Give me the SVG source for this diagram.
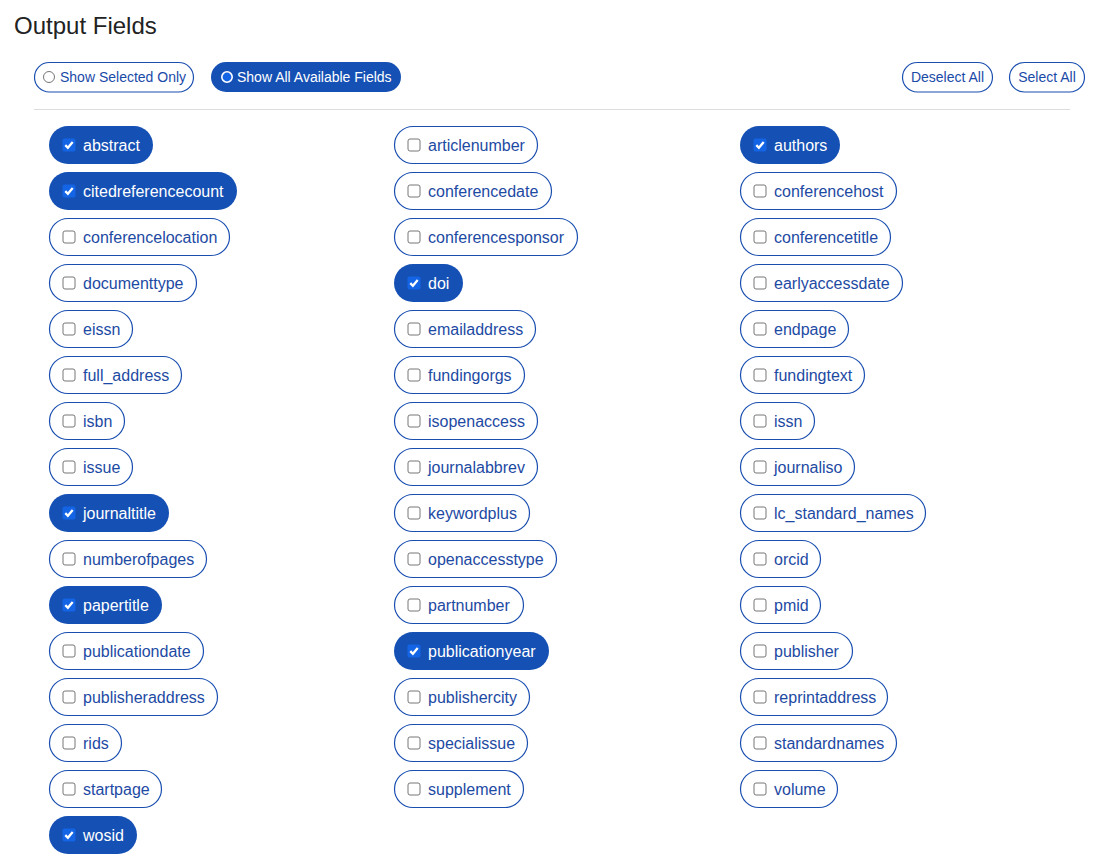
<svg xmlns="http://www.w3.org/2000/svg" xmlns:xlink="http://www.w3.org/1999/xlink" width="1099" height="858" viewBox="0 0 1099 858">
<style>
text{font-family:"Liberation Sans",Arial,sans-serif}
.title{font-size:24px;fill:#222}
.btn{fill:#fff;stroke:#1a4fb0;stroke-width:1.2}
.btnOn{fill:#1550b4}
.btnT{font-size:14px;fill:#1a4aa8}
.btnTOn{font-size:14px;fill:#fff}
.p{fill:#fff;stroke:#1a4fb0;stroke-width:1.2}
.pOn{fill:#1550b4}
.t{font-size:16px;fill:#1d4aa3}
.tOn{font-size:16px;fill:#fff}
</style>
<defs>
<g id="cb"><rect x="0.5" y="0.5" width="12" height="12" rx="2" fill="#fff" stroke="#767676" stroke-width="1"/></g>
<g id="cbOn"><rect x="0" y="0" width="13" height="13" rx="2" fill="#1464e6"/><path d="M2.8 6.6 L5.4 9.3 L10.2 3.6" fill="none" stroke="#fff" stroke-width="2.3"/></g>
</defs>
<rect width="1099" height="858" fill="#fff"/>
<text class="title" x="14" y="34">Output Fields</text>
<g id="show-selected">
<rect class="btn" x="34.5" y="62.5" width="159" height="29.5" rx="14.75"/>
<circle cx="49" cy="77" r="5.5" fill="#fff" stroke="#767676" stroke-width="1"/>
<text class="btnT" x="60" y="82">Show Selected Only</text>
</g>
<g id="show-all">
<rect class="btnOn" x="211" y="62" width="190" height="30" rx="15"/>
<circle cx="227" cy="77" r="5.2" fill="#1464e6" stroke="#fff" stroke-width="1.6"/>
<text class="btnTOn" x="237" y="82">Show All Available Fields</text>
</g>
<g id="deselect-all">
<rect class="btn" x="902.5" y="62.5" width="90" height="29.5" rx="14.75"/>
<text class="btnT" x="947.5" y="82" text-anchor="middle">Deselect All</text>
</g>
<g id="select-all">
<rect class="btn" x="1009.5" y="62.5" width="75" height="29.5" rx="14.75"/>
<text class="btnT" x="1047" y="82" text-anchor="middle">Select All</text>
</g>
<line x1="34" y1="109.5" x2="1070" y2="109.5" stroke="#ddd" stroke-width="1"/>

<g id="f-abstract"><rect class="pOn" x="49" y="126" width="104" height="38" rx="19"/><use xlink:href="#cbOn" x="62.5" y="138.5"/><text class="tOn" x="83" y="150.5">abstract</text></g>
<g id="f-citedreferencecount"><rect class="pOn" x="49" y="172" width="188" height="38" rx="19"/><use xlink:href="#cbOn" x="62.5" y="184.5"/><text class="tOn" x="83" y="196.5">citedreferencecount</text></g>
<g id="f-conferencelocation"><rect class="p" x="49.5" y="218.5" width="180" height="37" rx="18.5"/><use xlink:href="#cb" x="62.5" y="230.5"/><text class="t" x="83" y="242.5">conferencelocation</text></g>
<g id="f-documenttype"><rect class="p" x="49.5" y="264.5" width="147" height="37" rx="18.5"/><use xlink:href="#cb" x="62.5" y="276.5"/><text class="t" x="83" y="288.5">documenttype</text></g>
<g id="f-eissn"><rect class="p" x="49.5" y="310.5" width="83" height="37" rx="18.5"/><use xlink:href="#cb" x="62.5" y="322.5"/><text class="t" x="83" y="334.5">eissn</text></g>
<g id="f-full_address"><rect class="p" x="49.5" y="356.5" width="132" height="37" rx="18.5"/><use xlink:href="#cb" x="62.5" y="368.5"/><text class="t" x="83" y="380.5">full_address</text></g>
<g id="f-isbn"><rect class="p" x="49.5" y="402.5" width="75" height="37" rx="18.5"/><use xlink:href="#cb" x="62.5" y="414.5"/><text class="t" x="83" y="426.5">isbn</text></g>
<g id="f-issue"><rect class="p" x="49.5" y="448.5" width="83" height="37" rx="18.5"/><use xlink:href="#cb" x="62.5" y="460.5"/><text class="t" x="83" y="472.5">issue</text></g>
<g id="f-journaltitle"><rect class="pOn" x="49" y="494" width="120" height="38" rx="19"/><use xlink:href="#cbOn" x="62.5" y="506.5"/><text class="tOn" x="83" y="518.5">journaltitle</text></g>
<g id="f-numberofpages"><rect class="p" x="49.5" y="540.5" width="157" height="37" rx="18.5"/><use xlink:href="#cb" x="62.5" y="552.5"/><text class="t" x="83" y="564.5">numberofpages</text></g>
<g id="f-papertitle"><rect class="pOn" x="49" y="586" width="113" height="38" rx="19"/><use xlink:href="#cbOn" x="62.5" y="598.5"/><text class="tOn" x="83" y="610.5">papertitle</text></g>
<g id="f-publicationdate"><rect class="p" x="49.5" y="632.5" width="154" height="37" rx="18.5"/><use xlink:href="#cb" x="62.5" y="644.5"/><text class="t" x="83" y="656.5">publicationdate</text></g>
<g id="f-publisheraddress"><rect class="p" x="49.5" y="678.5" width="168" height="37" rx="18.5"/><use xlink:href="#cb" x="62.5" y="690.5"/><text class="t" x="83" y="702.5">publisheraddress</text></g>
<g id="f-rids"><rect class="p" x="49.5" y="724.5" width="72" height="37" rx="18.5"/><use xlink:href="#cb" x="62.5" y="736.5"/><text class="t" x="83" y="748.5">rids</text></g>
<g id="f-startpage"><rect class="p" x="49.5" y="770.5" width="112" height="37" rx="18.5"/><use xlink:href="#cb" x="62.5" y="782.5"/><text class="t" x="83" y="794.5">startpage</text></g>
<g id="f-wosid"><rect class="pOn" x="49" y="816" width="88" height="38" rx="19"/><use xlink:href="#cbOn" x="62.5" y="828.5"/><text class="tOn" x="83" y="840.5">wosid</text></g>

<g id="f-articlenumber"><rect class="p" x="394.5" y="126.5" width="143" height="37" rx="18.5"/><use xlink:href="#cb" x="407.5" y="138.5"/><text class="t" x="428" y="150.5">articlenumber</text></g>
<g id="f-conferencedate"><rect class="p" x="394.5" y="172.5" width="157" height="37" rx="18.5"/><use xlink:href="#cb" x="407.5" y="184.5"/><text class="t" x="428" y="196.5">conferencedate</text></g>
<g id="f-conferencesponsor"><rect class="p" x="394.5" y="218.5" width="183" height="37" rx="18.5"/><use xlink:href="#cb" x="407.5" y="230.5"/><text class="t" x="428" y="242.5">conferencesponsor</text></g>
<g id="f-doi"><rect class="pOn" x="394" y="264" width="69" height="38" rx="19"/><use xlink:href="#cbOn" x="407.5" y="276.5"/><text class="tOn" x="428" y="288.5">doi</text></g>
<g id="f-emailaddress"><rect class="p" x="394.5" y="310.5" width="141" height="37" rx="18.5"/><use xlink:href="#cb" x="407.5" y="322.5"/><text class="t" x="428" y="334.5">emailaddress</text></g>
<g id="f-fundingorgs"><rect class="p" x="394.5" y="356.5" width="130" height="37" rx="18.5"/><use xlink:href="#cb" x="407.5" y="368.5"/><text class="t" x="428" y="380.5">fundingorgs</text></g>
<g id="f-isopenaccess"><rect class="p" x="394.5" y="402.5" width="143" height="37" rx="18.5"/><use xlink:href="#cb" x="407.5" y="414.5"/><text class="t" x="428" y="426.5">isopenaccess</text></g>
<g id="f-journalabbrev"><rect class="p" x="394.5" y="448.5" width="143" height="37" rx="18.5"/><use xlink:href="#cb" x="407.5" y="460.5"/><text class="t" x="428" y="472.5">journalabbrev</text></g>
<g id="f-keywordplus"><rect class="p" x="394.5" y="494.5" width="135" height="37" rx="18.5"/><use xlink:href="#cb" x="407.5" y="506.5"/><text class="t" x="428" y="518.5">keywordplus</text></g>
<g id="f-openaccesstype"><rect class="p" x="394.5" y="540.5" width="162" height="37" rx="18.5"/><use xlink:href="#cb" x="407.5" y="552.5"/><text class="t" x="428" y="564.5">openaccesstype</text></g>
<g id="f-partnumber"><rect class="p" x="394.5" y="586.5" width="129" height="37" rx="18.5"/><use xlink:href="#cb" x="407.5" y="598.5"/><text class="t" x="428" y="610.5">partnumber</text></g>
<g id="f-publicationyear"><rect class="pOn" x="394" y="632" width="155" height="38" rx="19"/><use xlink:href="#cbOn" x="407.5" y="644.5"/><text class="tOn" x="428" y="656.5">publicationyear</text></g>
<g id="f-publishercity"><rect class="p" x="394.5" y="678.5" width="135" height="37" rx="18.5"/><use xlink:href="#cb" x="407.5" y="690.5"/><text class="t" x="428" y="702.5">publishercity</text></g>
<g id="f-specialissue"><rect class="p" x="394.5" y="724.5" width="133" height="37" rx="18.5"/><use xlink:href="#cb" x="407.5" y="736.5"/><text class="t" x="428" y="748.5">specialissue</text></g>
<g id="f-supplement"><rect class="p" x="394.5" y="770.5" width="129" height="37" rx="18.5"/><use xlink:href="#cb" x="407.5" y="782.5"/><text class="t" x="428" y="794.5">supplement</text></g>

<g id="f-authors"><rect class="pOn" x="740" y="126" width="100" height="38" rx="19"/><use xlink:href="#cbOn" x="753.5" y="138.5"/><text class="tOn" x="774" y="150.5">authors</text></g>
<g id="f-conferencehost"><rect class="p" x="740.5" y="172.5" width="156" height="37" rx="18.5"/><use xlink:href="#cb" x="753.5" y="184.5"/><text class="t" x="774" y="196.5">conferencehost</text></g>
<g id="f-conferencetitle"><rect class="p" x="740.5" y="218.5" width="150" height="37" rx="18.5"/><use xlink:href="#cb" x="753.5" y="230.5"/><text class="t" x="774" y="242.5">conferencetitle</text></g>
<g id="f-earlyaccessdate"><rect class="p" x="740.5" y="264.5" width="162" height="37" rx="18.5"/><use xlink:href="#cb" x="753.5" y="276.5"/><text class="t" x="774" y="288.5">earlyaccessdate</text></g>
<g id="f-endpage"><rect class="p" x="740.5" y="310.5" width="108" height="37" rx="18.5"/><use xlink:href="#cb" x="753.5" y="322.5"/><text class="t" x="774" y="334.5">endpage</text></g>
<g id="f-fundingtext"><rect class="p" x="740.5" y="356.5" width="124" height="37" rx="18.5"/><use xlink:href="#cb" x="753.5" y="368.5"/><text class="t" x="774" y="380.5">fundingtext</text></g>
<g id="f-issn"><rect class="p" x="740.5" y="402.5" width="74" height="37" rx="18.5"/><use xlink:href="#cb" x="753.5" y="414.5"/><text class="t" x="774" y="426.5">issn</text></g>
<g id="f-journaliso"><rect class="p" x="740.5" y="448.5" width="114" height="37" rx="18.5"/><use xlink:href="#cb" x="753.5" y="460.5"/><text class="t" x="774" y="472.5">journaliso</text></g>
<g id="f-lc_standard_names"><rect class="p" x="740.5" y="494.5" width="185" height="37" rx="18.5"/><use xlink:href="#cb" x="753.5" y="506.5"/><text class="t" x="774" y="518.5">lc_standard_names</text></g>
<g id="f-orcid"><rect class="p" x="740.5" y="540.5" width="80" height="37" rx="18.5"/><use xlink:href="#cb" x="753.5" y="552.5"/><text class="t" x="774" y="564.5">orcid</text></g>
<g id="f-pmid"><rect class="p" x="740.5" y="586.5" width="80" height="37" rx="18.5"/><use xlink:href="#cb" x="753.5" y="598.5"/><text class="t" x="774" y="610.5">pmid</text></g>
<g id="f-publisher"><rect class="p" x="740.5" y="632.5" width="112" height="37" rx="18.5"/><use xlink:href="#cb" x="753.5" y="644.5"/><text class="t" x="774" y="656.5">publisher</text></g>
<g id="f-reprintaddress"><rect class="p" x="740.5" y="678.5" width="147" height="37" rx="18.5"/><use xlink:href="#cb" x="753.5" y="690.5"/><text class="t" x="774" y="702.5">reprintaddress</text></g>
<g id="f-standardnames"><rect class="p" x="740.5" y="724.5" width="156" height="37" rx="18.5"/><use xlink:href="#cb" x="753.5" y="736.5"/><text class="t" x="774" y="748.5">standardnames</text></g>
<g id="f-volume"><rect class="p" x="740.5" y="770.5" width="97" height="37" rx="18.5"/><use xlink:href="#cb" x="753.5" y="782.5"/><text class="t" x="774" y="794.5">volume</text></g>
</svg>
